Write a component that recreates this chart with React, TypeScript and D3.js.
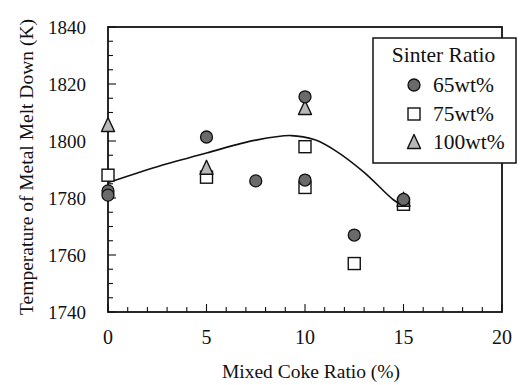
import React from "react";
import * as d3 from "d3";

const W = 523;
const H = 385;
const M = { left: 108, right: 21, top: 27, bottom: 73 };

const xTicks = [0, 5, 10, 15, 20];
const yTicks = [1740, 1760, 1780, 1800, 1820, 1840];

// Series: [mixed coke ratio (%), temperature (K)]
const s65: [number, number][] = [
  [0, 1782.5], [0, 1781], [5, 1801.4], [7.5, 1786], [10, 1815.5],
  [10, 1786.3], [12.5, 1767], [15, 1779.5],
];
const s75: [number, number][] = [
  [0, 1788], [5, 1787.3], [10, 1798], [10, 1783.7], [12.5, 1757], [15, 1777.8],
];
const s100: [number, number][] = [
  [0, 1805.6], [5, 1790.6], [10, 1811.6], [15, 1779.4],
];
const fitCurve: [number, number][] = [
  [0, 1785.4], [2.5, 1791], [5, 1795.8], [7.5, 1800.3], [9.3, 1801.9],
  [10.5, 1800.4], [11.5, 1796.8], [13, 1789], [14.5, 1779.3], [15, 1777.2],
];
const legendTitle = "Sinter Ratio";
const legendLabels = ["65wt%", "75wt%", "100wt%"];

const FONT = "Liberation Serif, DejaVu Serif, Times New Roman, serif";

function Circle({ cx, cy }: { cx: number; cy: number }) {
  return <circle cx={cx} cy={cy} r={6} fill="#6a6a6a" stroke="#111" strokeWidth={1.3} />;
}
function Square({ cx, cy }: { cx: number; cy: number }) {
  return <rect x={cx - 6} y={cy - 6} width={12} height={12} fill="#fff" stroke="#111" strokeWidth={1.4} />;
}
function Tri({ cx, cy }: { cx: number; cy: number }) {
  const h = 13, w = 13;
  return (
    <path
      d={`M${cx},${cy - h / 2 - 1} L${cx + w / 2},${cy + h / 2} L${cx - w / 2},${cy + h / 2} Z`}
      fill="#b8b8b8" stroke="#111" strokeWidth={1.4} strokeLinejoin="round"
    />
  );
}

const txt = { fontFamily: FONT, fill: "#111" } as const;

export default function App() {
  const x = d3.scaleLinear().domain([0, 20]).range([M.left, W - M.right]);
  const y = d3.scaleLinear().domain([1740, 1840]).range([H - M.bottom, M.top]);
  const line = d3.line<[number, number]>().x((d) => x(d[0])).y((d) => y(d[1])).curve(d3.curveCatmullRom.alpha(0.5));

  const xMinor = d3.range(0, 21, 1);
  const yMinor = d3.range(1740, 1841, 5);
  const x0 = x(0), x1 = x(20), y0 = y(1740), y1 = y(1840);

  return (
    <svg width={W} height={H} style={{ position: "absolute", left: 0, top: 0, background: "#fff" }}>
      <rect x={0} y={0} width={W} height={H} fill="#fff" />
      {/* ticks */}
      {xMinor.map((v) => (
        <line key={"xt" + v} x1={x(v)} x2={x(v)} y1={y0} y2={y0 - (v % 5 === 0 ? 8 : 5)} stroke="#111" strokeWidth={1.1} />
      ))}
      {yMinor.map((v) => (
        <line key={"yt" + v} x1={x0} x2={x0 + (v % 20 === 0 ? 8 : 5)} y1={y(v)} y2={y(v)} stroke="#111" strokeWidth={1.1} />
      ))}
      {/* frame */}
      <rect x={x0} y={y1} width={x1 - x0} height={y0 - y1} fill="none" stroke="#111" strokeWidth={1.8} />
      {/* tick labels */}
      {xTicks.map((v) => (
        <text key={"xl" + v} x={x(v)} y={344} textAnchor="middle" fontSize={20} style={txt}>{v}</text>
      ))}
      {yTicks.map((v) => (
        <text key={"yl" + v} x={86} y={y(v) + 6.5} textAnchor="end" fontSize={19} style={txt}>{v}</text>
      ))}
      {/* axis titles */}
      <text x={311} y={378} textAnchor="middle" fontSize={19.5} style={txt}>Mixed Coke Ratio (%)</text>
      <text transform={`translate(33,167) rotate(-90)`} textAnchor="middle" fontSize={19.5} style={txt}>
        Temperature of Metal Melt Down (K)
      </text>
      {/* fit curve */}
      <path d={line(fitCurve) || ""} fill="none" stroke="#111" strokeWidth={1.6} />
      {/* points */}
      {s75.map((d, i) => <Square key={"s" + i} cx={x(d[0])} cy={y(d[1])} />)}
      {s100.map((d, i) => <Tri key={"t" + i} cx={x(d[0])} cy={y(d[1])} />)}
      {s65.map((d, i) => <Circle key={"c" + i} cx={x(d[0])} cy={y(d[1])} />)}
      {/* legend */}
      <rect x={373} y={38} width={143} height={125} fill="#fff" stroke="#111" strokeWidth={1.5} />
      <text x={443.5} y={62} textAnchor="middle" fontSize={21.5} style={txt}>{legendTitle}</text>
      <Circle cx={414} cy={85} />
      <Square cx={414} cy={114} />
      <Tri cx={414} cy={142} />
      {legendLabels.map((t, i) => (
        <text key={t} x={433} y={92 + i * 28.5} fontSize={21.5} style={txt}>{t}</text>
      ))}
    </svg>
  );
}
